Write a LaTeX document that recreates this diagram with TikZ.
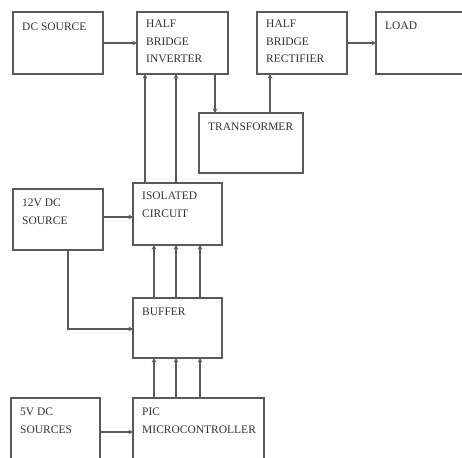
\documentclass[tikz,border=0pt]{standalone}
\usepackage{fontspec}
\setmainfont{Liberation Serif}
\usetikzlibrary{arrows.meta,calc}
\definecolor{ln}{HTML}{5A5A5A}
\definecolor{tx}{HTML}{333333}
\tikzset{
  box/.style={draw=ln, line width=1.3pt, inner sep=0pt, outer sep=0pt, fill=white},
  txt/.style={text=tx, inner sep=0pt, align=left, anchor=north west, font=\fontsize{11.5}{17.5}\selectfont},
  arr/.style={draw=ln, line width=1.3pt, -{Stealth[length=4.5pt,width=4.5pt]}},
}
\begin{document}
\begin{tikzpicture}[x=1pt,y=-1pt]
\useasboundingbox (0,0) rectangle (462,457);
\clip (0,0) rectangle (462,457);
\fill[white] (0,0) rectangle (462,457);
% boxes
\node[box, minimum width=90, minimum height=62] (dc) at (58,43) {};
\node[box, minimum width=91, minimum height=62] (inv) at (182.5,43) {};
\node[box, minimum width=90, minimum height=62] (rect) at (302,43) {};
\node[box, minimum width=96, minimum height=62] (load) at (424,43) {};
\node[box, minimum width=104, minimum height=60] (trans) at (251,143) {};
\node[box, minimum width=90, minimum height=61] (v12) at (58,219.5) {};
\node[box, minimum width=89, minimum height=62] (iso) at (177.5,214) {};
\node[box, minimum width=89, minimum height=60] (buf) at (177.5,328) {};
\node[box, minimum width=89, minimum height=72] (v5) at (55.5,434) {};
\node[box, minimum width=131, minimum height=72] (pic) at (198.5,434) {};
% texts
\node[txt] (dct) at ($(dc.north west)+(9,11)$) {DC SOURCE};
\node[txt] (invt) at ($(inv.north west)+(9,8)$) {HALF\\BRIDGE\\INVERTER};
\node[txt] (rectt) at ($(rect.north west)+(9,8)$) {HALF\\BRIDGE\\RECTIFIER};
\node[txt] (loadt) at ($(load.north west)+(9,10)$) {LOAD};
\node[txt] (transt) at ($(trans.north west)+(9,10)$) {TRANSFORMER};
\node[txt] (v12t) at ($(v12.north west)+(9,10)$) {12V DC\\SOURCE};
\node[txt] (isot) at ($(iso.north west)+(9,9)$) {ISOLATED\\CIRCUIT};
\node[txt] (buft) at ($(buf.north west)+(9,10)$) {BUFFER};
\node[txt] (v5t) at ($(v5.north west)+(9,10)$) {5V DC\\SOURCES};
\node[txt] (pict) at ($(pic.north west)+(9,10)$) {PIC\\MICROCONTROLLER};
% connectors
\draw[arr] (dc.east) -- (inv.west);
\draw[arr] (rect.east) -- (load.west);
\draw[arr] (inv.south -| 215,0) -- (trans.north -| 215,0);
\draw[arr] (trans.north -| 270,0) -- (rect.south -| 270,0);
\draw[arr] (iso.north -| 145,0) -- (inv.south -| 145,0);
\draw[arr] (iso.north -| 176,0) -- (inv.south -| 176,0);
\draw[arr] (v12.east |- 0,217) -- (iso.west |- 0,217);
\foreach \xx in {154,176,200}{
  \draw[arr] (buf.north -| \xx,0) -- (iso.south -| \xx,0);
  \draw[arr] (pic.north -| \xx,0) -- (buf.south -| \xx,0);
}
\draw[arr] (v12.south -| 68,0) |- (buf.west |- 0,329);
\draw[arr] (v5.east |- 0,432) -- (pic.west |- 0,432);
\end{tikzpicture}
\end{document}
